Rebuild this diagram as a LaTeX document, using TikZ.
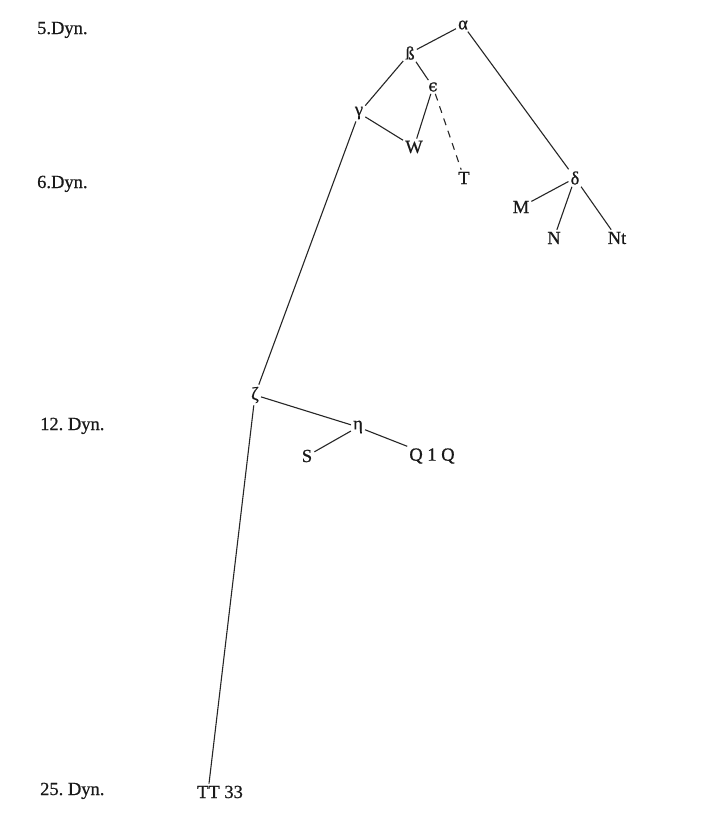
\documentclass[tikz,border=0pt]{standalone}
\usepackage{fontspec}
\setmainfont{Liberation Serif}[FakeBold=0.7]
\newfontfamily\epsfont{DejaVu Serif}[FakeBold=0.5]
\begin{document}
\begin{tikzpicture}[x=1pt,y=-1pt,
  lbl/.style={font=\fontsize{18.5}{20}\selectfont, inner sep=0pt, anchor=base west, text=black!90},
  nd/.style={font=\fontsize{18.5}{20}\selectfont, inner sep=2pt, text=black!90},
  edge/.style={line width=1.1pt, draw=black!85},
  dashededge/.style={edge, dash pattern=on 7pt off 6pt}]
\useasboundingbox[fill=white] (0,0) rectangle (724,828);
% dynasty labels
\node[lbl] (d5) at (37,34) {5.Dyn.};
\node[lbl] (d6) at (37,188) {6.Dyn.};
\node[lbl] (d12) at (40,430) {12.\ Dyn.};
\node[lbl] (d25) at (40,795) {25.\ Dyn.};
% stemma nodes
\node[nd] (alpha) at (463,25) {α};
\node[nd] (beta) at (410,53) {ß};
\node[nd] (eps) at (433,87) {\epsfont\fontsize{17}{20}\selectfont ϵ};
\node[nd] (gamma) at (359,113) {γ};
\node[nd] (W) at (414,147) {W};
\node[nd] (T) at (464,178) {T};
\node[nd] (delta) at (575,178) {δ};
\node[nd] (M) at (521,207) {M};
\node[nd] (N) at (554,238) {N};
\node[nd] (Nt) at (617,238) {Nt};
\node[nd] (zeta) at (255,395) {ζ};
\node[nd] (eta) at (358,427) {η};
\node[nd] (S) at (307,456) {S};
\node[nd] (Q) at (432,456) {Q 1 Q};
\node[nd] (TT) at (220,792) {TT 33};
% connectors
\draw[edge] (alpha) -- (beta);
\draw[edge] (alpha) -- (delta);
\draw[edge] (beta) -- (gamma);
\draw[edge] (beta) -- (eps);
\draw[edge] (eps) -- (W);
\draw[dashededge] (eps) -- (T);
\draw[edge] (gamma) -- (W);
\draw[edge] (gamma) -- (zeta);
\draw[edge] (delta) -- (M);
\draw[edge] (delta) -- (N);
\draw[edge] (delta) -- (Nt);
\draw[edge] (zeta) -- (eta);
\draw[edge] (eta) -- (S);
\draw[edge] (eta) -- (Q);
\draw[edge] (zeta) -- ([xshift=-11pt]TT.north);
\end{tikzpicture}
\end{document}
